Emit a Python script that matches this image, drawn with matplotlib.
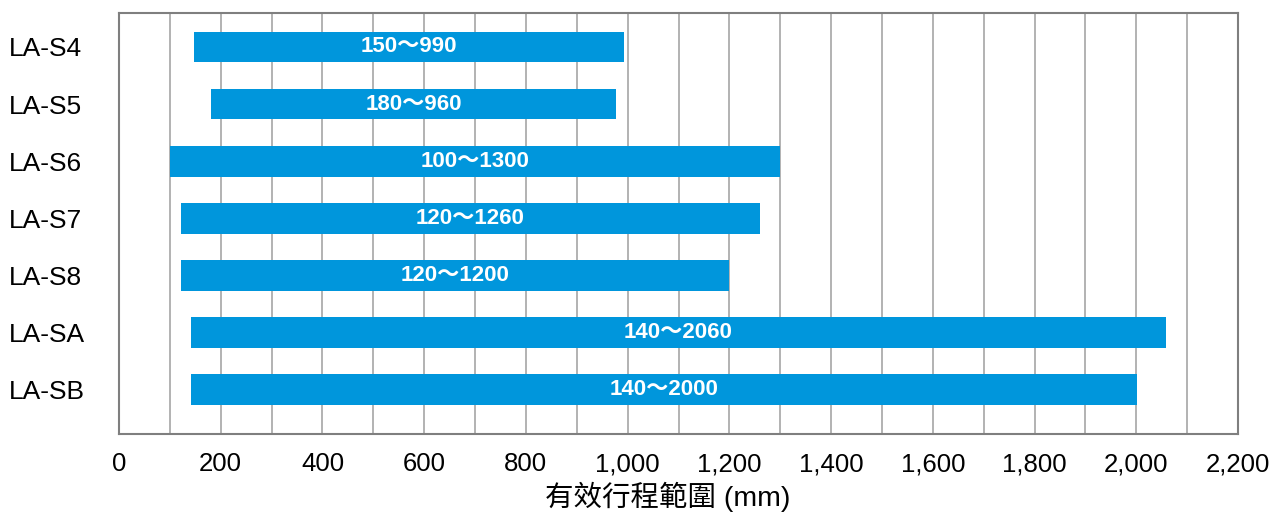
import matplotlib
matplotlib.use("Agg")
import matplotlib.pyplot as plt
from matplotlib.ticker import MultipleLocator, FuncFormatter

models = ["LA-S4", "LA-S5", "LA-S6", "LA-S7", "LA-S8", "LA-SA", "LA-SB"]
# range labels printed on the bars
stroke_min = [150, 180, 100, 120, 120, 140, 140]
stroke_max = [990, 960, 1300, 1260, 1200, 2060, 2000]
# bar extents as drawn in the picture
bar_start = [148, 180, 100, 122, 122, 142, 142]
bar_end = [992, 978, 1300, 1260, 1200, 2058, 2002]
xlabel = "有效行程範圍 (mm)"

FONT = ["Liberation Sans", "Noto Sans CJK TC", "DejaVu Sans"]
plt.rcParams["font.family"] = FONT

fig = plt.figure(figsize=(12.76, 5.16), dpi=100)
ax = fig.add_axes([119 / 1276, 1 - 434 / 516, (1238 - 119) / 1276, (434 - 12.5) / 516])

bar_color = "#0096DC"
ypos = list(range(len(models)))
widths = [b - a for a, b in zip(bar_start, bar_end)]
ax.barh(ypos, widths, left=bar_start, height=0.54, color=bar_color, zorder=3)

for y, a, b, lo, hi in zip(ypos, bar_start, bar_end, stroke_min, stroke_max):
    ax.text((a + b) / 2, y, f"{lo}～{hi}", color="white", fontsize=16,
            fontweight="bold", ha="center", va="center", zorder=4,
            family=FONT)

ax.set_xlim(0, 2200)
ax.set_ylim(6.78, -0.604)
ax.xaxis.set_major_locator(MultipleLocator(200))
ax.xaxis.set_minor_locator(MultipleLocator(100))
ax.xaxis.set_major_formatter(FuncFormatter(lambda v, p: f"{int(v):,}"))
ax.grid(True, axis="x", which="both", color="#A6A6A6", linewidth=1.2, zorder=0)
ax.tick_params(axis="x", which="both", length=0, labelsize=18.5, pad=13)
ax.set_yticks(ypos)
ax.set_yticklabels(models)
ax.tick_params(axis="y", length=0, labelsize=19, pad=0)
for lab in ax.get_yticklabels():
    lab.set_horizontalalignment("left")
    lab.set_x(-110 / 1119)
for s in ax.spines.values():
    s.set_color("#7F7F7F")
    s.set_linewidth(1.5)

ax.set_xlabel(xlabel, fontsize=20.5)
ax.xaxis.set_label_coords((668 - 119) / 1119, (434 - 482) / 421.5)

fig.savefig("out.png", dpi=100)
